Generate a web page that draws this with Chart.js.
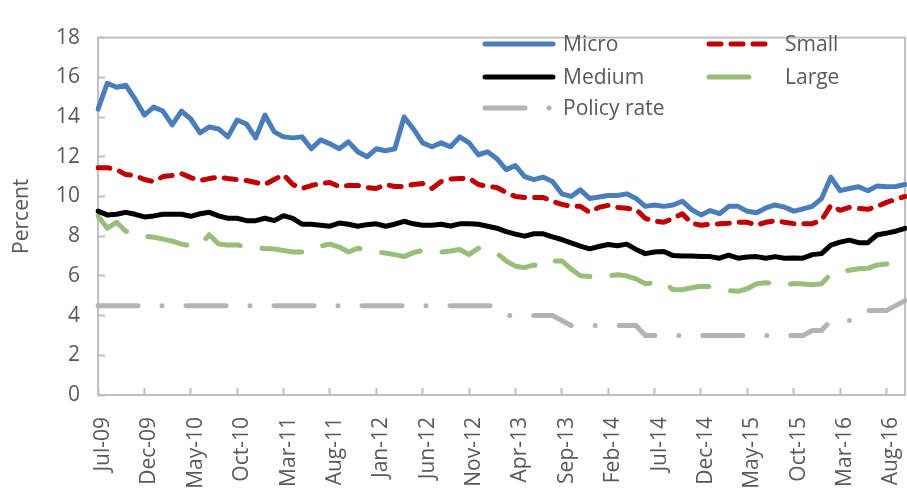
<!DOCTYPE html>
<html>
<head>
<meta charset="utf-8">
<script src="https://cdn.jsdelivr.net/npm/chart.js@4.4.1/dist/chart.umd.min.js"></script>
<style>
  html, body { margin: 0; padding: 0; background: #fff; }
  #wrap { width: 907px; height: 496px; }
</style>
</head>
<body>
<div id="wrap"><canvas id="myChart" width="907" height="496"></canvas></div>
<script>
// categories, one per month
var months = [
  'Jul-09','Aug-09','Sep-09','Oct-09','Nov-09','Dec-09',
  'Jan-10','Feb-10','Mar-10','Apr-10','May-10','Jun-10','Jul-10','Aug-10','Sep-10','Oct-10','Nov-10','Dec-10',
  'Jan-11','Feb-11','Mar-11','Apr-11','May-11','Jun-11','Jul-11','Aug-11','Sep-11','Oct-11','Nov-11','Dec-11',
  'Jan-12','Feb-12','Mar-12','Apr-12','May-12','Jun-12','Jul-12','Aug-12','Sep-12','Oct-12','Nov-12','Dec-12',
  'Jan-13','Feb-13','Mar-13','Apr-13','May-13','Jun-13','Jul-13','Aug-13','Sep-13','Oct-13','Nov-13','Dec-13',
  'Jan-14','Feb-14','Mar-14','Apr-14','May-14','Jun-14','Jul-14','Aug-14','Sep-14','Oct-14','Nov-14','Dec-14',
  'Jan-15','Feb-15','Mar-15','Apr-15','May-15','Jun-15','Jul-15','Aug-15','Sep-15','Oct-15','Nov-15','Dec-15',
  'Jan-16','Feb-16','Mar-16','Apr-16','May-16','Jun-16','Jul-16','Aug-16','Sep-16','Oct-16'
];

var micro = [
  14.4, 15.7, 15.5, 15.6, 14.9, 14.1, 14.5, 14.3, 13.6, 14.3, 13.9, 13.2, 13.5, 13.4, 13.0, 13.85,
  13.65, 12.95, 14.1, 13.25, 13.0, 12.95, 13.0, 12.4, 12.85, 12.65, 12.4, 12.75, 12.25, 12.0, 12.4,
  12.3, 12.4, 14.0, 13.4, 12.7, 12.5, 12.7, 12.5, 13.0, 12.7, 12.1, 12.25, 11.9, 11.35, 11.55, 11.0,
  10.85, 10.97, 10.75, 10.13, 10.0, 10.33, 9.9, 9.97, 10.05, 10.05, 10.13, 9.9, 9.5, 9.57, 9.5, 9.57,
  9.76, 9.34, 9.07, 9.29, 9.13, 9.5, 9.5, 9.25, 9.18, 9.42, 9.57, 9.46, 9.26, 9.37, 9.5, 9.89, 10.97,
  10.29, 10.4, 10.49, 10.29, 10.53, 10.49, 10.5, 10.6
];

var small = [
  11.45, 11.45, 11.35, 11.1, 11.05, 10.85, 10.75, 11.0, 11.05, 11.15, 10.95, 10.8, 10.9, 10.98, 10.9,
  10.85, 10.8, 10.7, 10.6, 10.85, 11.1, 10.6, 10.4, 10.55, 10.65, 10.7, 10.5, 10.55, 10.55, 10.45,
  10.4, 10.6, 10.5, 10.5, 10.6, 10.65, 10.4, 10.75, 10.88, 10.9, 10.92, 10.6, 10.5, 10.45, 10.2, 10.0,
  9.95, 9.95, 9.95, 9.75, 9.6, 9.5, 9.5, 9.2, 9.45, 9.55, 9.45, 9.4, 9.35, 8.9, 8.75, 8.7, 8.9, 9.13,
  8.65, 8.55, 8.6, 8.62, 8.65, 8.7, 8.7, 8.55, 8.7, 8.78, 8.7, 8.63, 8.63, 8.63, 8.8, 9.55, 9.3, 9.45,
  9.4, 9.35, 9.5, 9.7, 9.85, 10.0
];

var medium = [
  9.26, 9.07, 9.1, 9.2, 9.1, 8.97, 9.02, 9.1, 9.1, 9.1, 9.0, 9.13, 9.2, 9.02, 8.9, 8.9, 8.78, 8.78,
  8.9, 8.78, 9.03, 8.9, 8.6, 8.6, 8.55, 8.5, 8.66, 8.6, 8.5, 8.58, 8.62, 8.5, 8.6, 8.75, 8.62, 8.55,
  8.55, 8.6, 8.51, 8.62, 8.62, 8.6, 8.5, 8.4, 8.23, 8.1, 8.0, 8.12, 8.12, 7.96, 7.83, 7.66, 7.5, 7.36,
  7.48, 7.58, 7.52, 7.6, 7.33, 7.12, 7.2, 7.23, 7.02, 7.0, 7.0, 6.97, 6.97, 6.89, 7.04, 6.89, 6.95,
  6.97, 6.89, 6.97, 6.89, 6.9, 6.89, 7.07, 7.12, 7.55, 7.7, 7.8, 7.67, 7.67, 8.07, 8.15, 8.25, 8.39
];

var large = [
  9.02, 8.4, 8.7, 8.25, 8.1, 8.0, 7.95, 7.85, 7.75, 7.6, 7.52, 7.55, 8.07, 7.6, 7.56, 7.56, 7.45, 7.4,
  7.38, 7.35, 7.28, 7.2, 7.2, 7.38, 7.5, 7.6, 7.45, 7.2, 7.39, 7.3, 7.2, 7.15, 7.07, 6.97, 7.17, 7.28,
  7.22, 7.2, 7.25, 7.33, 7.07, 7.39, 7.25, 7.15, 6.75, 6.49, 6.41, 6.55, 6.45, 6.75, 6.75, 6.35, 6.0,
  5.97, 5.97, 6.0, 6.06, 6.0, 5.85, 5.6, 5.65, 5.68, 5.3, 5.3, 5.4, 5.48, 5.46, 5.38, 5.25, 5.22, 5.35,
  5.6, 5.65, 5.63, 5.54, 5.62, 5.59, 5.55, 5.6, 6.1, 6.22, 6.28, 6.36, 6.38, 6.55, 6.6, 6.7, 6.85
];

var policy = [
  4.5, 4.5, 4.5, 4.5, 4.5, 4.5, 4.5, 4.5, 4.5, 4.5, 4.5, 4.5, 4.5, 4.5, 4.5, 4.5, 4.5, 4.5, 4.5, 4.5,
  4.5, 4.5, 4.5, 4.5, 4.5, 4.5, 4.5, 4.5, 4.5, 4.5, 4.5, 4.5, 4.5, 4.5, 4.5, 4.5, 4.5, 4.5, 4.5, 4.5,
  4.5, 4.5, 4.5, 4.5, 4.0, 4.0, 4.0, 4.0, 4.0, 4.0, 3.75, 3.5, 3.5, 3.5, 3.5, 3.5, 3.5, 3.5, 3.5,
  3.0, 3.0, 3.0, 3.0, 3.0, 3.0, 3.0, 3.0, 3.0, 3.0, 3.0, 3.0, 3.0, 3.0, 3.0, 3.0, 3.0, 3.0,
  3.25, 3.25, 3.75, 3.75, 3.75, 3.75, 4.25, 4.25, 4.25, 4.5, 4.75
];

var seriesNames = ['Micro', 'Small', 'Medium', 'Large', 'Policy rate'];
var yTicks = [0, 2, 4, 6, 8, 10, 12, 14, 16, 18];

var FONT = "'Open Sans', 'Noto Sans', sans-serif";
var TEXT = '#595959';
var AXIS = '#BFBFBF';

function line(label, data, color, dash) {
  return {
    label: label,
    data: data,
    borderColor: color,
    backgroundColor: color,
    borderWidth: 5,
    borderDash: dash,
    borderCapStyle: 'round',
    borderJoinStyle: 'round',
    pointRadius: 0,
    tension: 0,
    fill: false
  };
}

// plot frame (Excel draws a box round the plot area)
var frame = {
  id: 'frame',
  beforeDatasetsDraw: function(chart) {
    var a = chart.chartArea, c = chart.ctx;
    c.save();
    c.strokeStyle = AXIS;
    c.lineWidth = 2;
    c.strokeRect(a.left, a.top, a.right - a.left, a.bottom - a.top);
    c.restore();
  }
};

// legend inside the plot, two columns
var insideLegend = {
  id: 'insideLegend',
  afterDatasetsDraw: function(chart) {
    var c = chart.ctx;
    var spots = [
      {ds: 0, x: 485, x2: 553, tx: 563, y: 44},
      {ds: 2, x: 485, x2: 553, tx: 563, y: 77},
      {ds: 4, x: 485, x2: 553, tx: 563, y: 108},
      {ds: 1, x: 709, x2: 770, tx: 785, y: 44},
      {ds: 3, x: 709, x2: 770, tx: 785, y: 77}
    ];
    c.save();
    spots.forEach(function(s) {
      var d = chart.data.datasets[s.ds];
      c.beginPath();
      c.setLineDash(d.borderDash || []);
      c.lineCap = 'round';
      c.lineWidth = d.borderWidth;
      c.strokeStyle = d.borderColor;
      c.moveTo(s.x, s.y);
      c.lineTo(s.x2, s.y);
      c.stroke();
      c.setLineDash([]);
      c.fillStyle = TEXT;
      c.font = '21px ' + FONT;
      c.textBaseline = 'middle';
      c.textAlign = 'left';
      c.fillText(d.label, s.tx, s.y + 1);
    });
    c.restore();
  }
};

var ctx = document.getElementById('myChart').getContext('2d');
var chart = new Chart(ctx, {
  type: 'line',
  data: {
    labels: months,
    datasets: [
      line(seriesNames[0], micro, '#4A7EBB', []),
      line(seriesNames[1], small, '#C00000', [12, 10]),
      line(seriesNames[2], medium, '#000000', []),
      line(seriesNames[3], large, '#98BE7A', [40, 22]),
      line(seriesNames[4], policy, '#B4B4B4', [40, 24, 0, 24])
    ]
  },
  options: {
    responsive: false,
    animation: false,
    devicePixelRatio: 1,
    layout: { padding: { top: 16, right: 2, left: 0, bottom: 0 } },
    plugins: {
      legend: { display: false },
      tooltip: { enabled: false }
    },
    scales: {
      x: {
        border: { display: false },
        grid: {
          drawOnChartArea: false,
          tickLength: -7,
          tickWidth: 2,
          tickColor: function(c) { return c.index % 5 === 0 ? AXIS : 'rgba(0,0,0,0)'; }
        },
        ticks: {
          autoSkip: false,
          maxRotation: 90,
          minRotation: 90,
          padding: 29,
          labelOffset: 5,
          color: TEXT,
          font: { family: FONT, size: 21 },
          callback: function(v, i) { return i % 5 === 0 ? months[i] : ''; }
        },
        afterFit: function(s) {
          s.height = 101;
          s.paddingLeft = 0;
          s.paddingRight = 0;
        }
      },
      y: {
        min: yTicks[0],
        max: yTicks[yTicks.length - 1],
        border: { display: false },
        grid: { drawOnChartArea: false, tickLength: -7, tickWidth: 2, tickColor: AXIS },
        ticks: {
          stepSize: yTicks[1] - yTicks[0],
          padding: 25,
          color: TEXT,
          font: { family: FONT, size: 21 }
        },
        title: {
          display: true,
          text: 'Percent',
          color: TEXT,
          font: { family: FONT, size: 21 },
          padding: { top: 9, bottom: 0 }
        },
        afterFit: function(s) { s.width = 98; }
      }
    }
  },
  plugins: [frame, insideLegend]
});
</script>
</body>
</html>
